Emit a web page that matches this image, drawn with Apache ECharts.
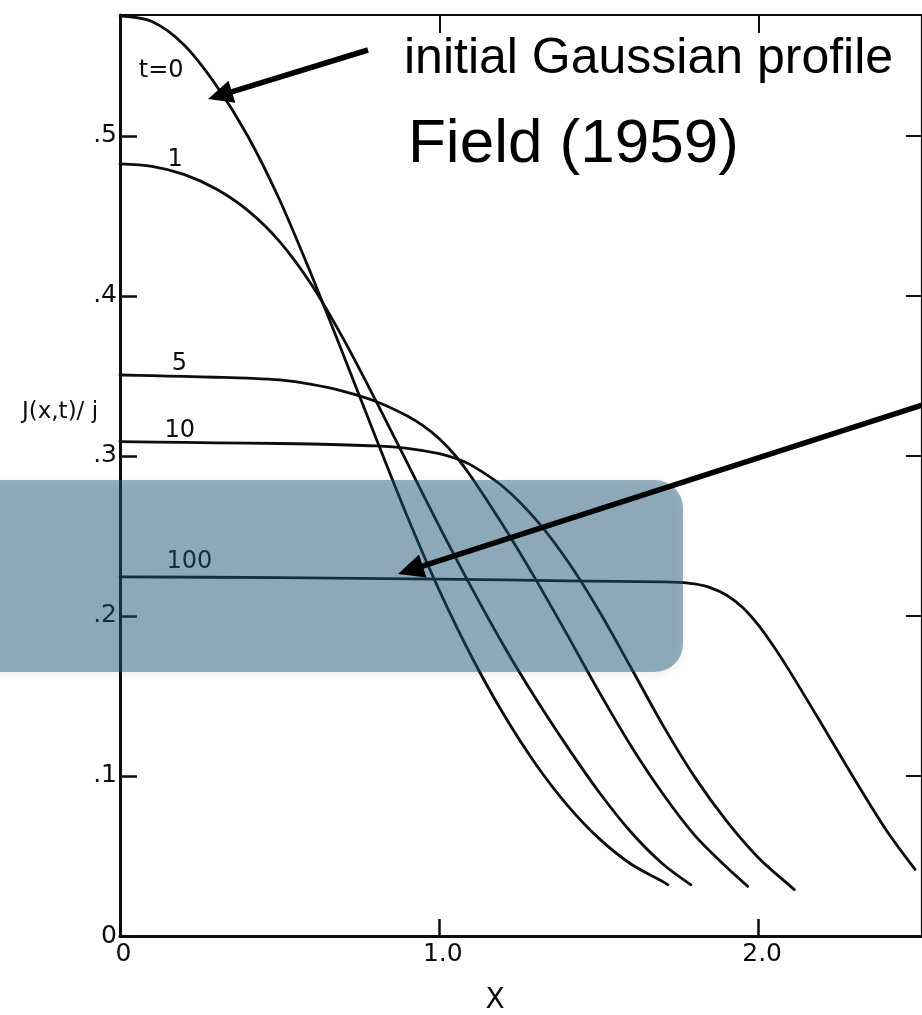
<!DOCTYPE html>
<html>
<head>
<meta charset="utf-8">
<script src="https://cdn.jsdelivr.net/npm/echarts@6/dist/echarts.min.js"></script>
<style>
  html, body { margin: 0; padding: 0; background: #ffffff; }
  #chart { width: 922px; height: 1015px; }
</style>
</head>
<body>
<div id="chart"></div>
<script>
// Normalised current density J(x,t)/j against distance x, one curve per time t.
const curveNames = ['t=0', '1', '5', '10', '100'];

const curveT0 = [
  [0, 0.575], [0.1, 0.5715], [0.2, 0.557], [0.3, 0.532], [0.4, 0.500],
  [0.5, 0.460], [0.6, 0.413], [0.7, 0.363], [0.8, 0.312], [0.9, 0.262], [1.0, 0.216],
  [1.1, 0.175], [1.2, 0.139], [1.3, 0.108], [1.4, 0.082], [1.5, 0.061], [1.6, 0.045],
  [1.7, 0.034], [1.716, 0.032]
];

const curveT1 = [
  [0, 0.4825], [0.1, 0.481], [0.2, 0.476], [0.3, 0.467], [0.4, 0.4535], [0.5, 0.434],
  [0.6, 0.407], [0.7, 0.373], [0.8, 0.335], [0.9, 0.2955], [1.0, 0.256], [1.1, 0.218],
  [1.2, 0.182], [1.3, 0.149], [1.4, 0.1185], [1.5, 0.090], [1.6, 0.065], [1.7, 0.045],
  [1.788, 0.032]
];

const curveT5 = [
  [0, 0.3506], [0.1, 0.3502], [0.2, 0.3497], [0.3, 0.3492], [0.4, 0.3486], [0.5, 0.3475],
  [0.6, 0.3447], [0.7, 0.3404], [0.8, 0.3342], [0.9, 0.3250], [0.95, 0.3188], [1.0, 0.3108],
  [1.05, 0.3003], [1.1, 0.2870], [1.2, 0.2565], [1.3, 0.2235], [1.4, 0.1885], [1.5, 0.1527],
  [1.6, 0.1189], [1.7, 0.0889], [1.8, 0.0629], [1.9, 0.0429], [1.966, 0.031]
];

const curveT10 = [
  [0, 0.309], [0.2, 0.3085], [0.4, 0.308], [0.6, 0.3075], [0.8, 0.3063], [0.9, 0.3048],
  [1.0, 0.3015], [1.05, 0.2986], [1.1, 0.2943], [1.2, 0.2808], [1.3, 0.2608], [1.4, 0.2348],
  [1.5, 0.2033], [1.6, 0.1678], [1.7, 0.1318], [1.8, 0.0993], [1.9, 0.0718], [2.0, 0.0488],
  [2.1, 0.031], [2.112, 0.029]
];

const curveT100 = [
  [0, 0.2244], [0.5, 0.2240], [1.0, 0.2230], [1.4, 0.2220], [1.7, 0.2213], [1.75, 0.2210],
  [1.8, 0.2200], [1.85, 0.2176], [1.9, 0.2130], [1.95, 0.2053], [2.0, 0.1941], [2.05, 0.1801],
  [2.1, 0.1646], [2.2, 0.1316], [2.3, 0.0981], [2.4, 0.0661], [2.49, 0.0416]
];

const curves = [curveT0, curveT1, curveT5, curveT10, curveT100];

const xTickLabels = ['0', '1.0', '2.0'];
const yTickLabels = ['0', '.1', '.2', '.3', '.4', '.5'];

// where each time label sits, in data units
const labelAnchors = [
  [0.129, 0.5406], [0.173, 0.4850], [0.186, 0.3575], [0.187, 0.3156], [0.217, 0.2340]
];

const X_MAX = 2.5117;
const Y_MAX = 0.5756;
const INK = '#0d0d0d';
const LETTER_FONT = '"DejaVu Sans", "Noto Sans", sans-serif';

function xLabel(v) {
  const i = Math.round(v);
  return Math.abs(v - i) < 1e-6 && i < xTickLabels.length ? xTickLabels[i] : '';
}
function yLabel(v) {
  const i = Math.round(v * 10);
  return Math.abs(v * 10 - i) < 1e-6 && i < yTickLabels.length ? yTickLabels[i] : '';
}

// filled arrow: straight shaft with a triangular head ending at the tip
function arrow(tail, tip, width, headLen, headW) {
  const dx = tip[0] - tail[0], dy = tip[1] - tail[1];
  const len = Math.hypot(dx, dy);
  const ux = dx / len, uy = dy / len;
  const bx = tip[0] - ux * headLen, by = tip[1] - uy * headLen;
  const px = -uy * headW / 2, py = ux * headW / 2;
  return [
    {
      type: 'line', z: 30,
      shape: { x1: tail[0], y1: tail[1], x2: bx + ux * 2, y2: by + uy * 2 },
      style: { stroke: '#000', lineWidth: width, lineCap: 'butt' }
    },
    {
      type: 'polygon', z: 30,
      shape: { points: [tip, [bx + px, by + py], [bx - px, by - py]] },
      style: { fill: '#000' }
    }
  ];
}

const chart = echarts.init(document.getElementById('chart'), null, { renderer: 'canvas' });

const series = curves.map((data, k) => ({
  type: 'line',
  name: curveNames[k],
  data: data,
  smooth: 0.3,
  showSymbol: false,
  symbol: 'none',
  animation: false,
  lineStyle: { color: INK, width: 2.8, cap: 'round', join: 'round' },
  z: 3,
  markPoint: {
    symbol: 'circle',
    symbolSize: 1,
    itemStyle: { color: 'rgba(0,0,0,0)' },
    label: {
      show: true, position: 'inside', formatter: curveNames[k],
      color: INK, fontSize: 24, fontFamily: LETTER_FONT
    },
    data: [{ coord: labelAnchors[k] }]
  }
}));

const option = {
  backgroundColor: '#ffffff',
  animation: false,
  grid: { left: 120, top: 15, width: 805, height: 921, containLabel: false },
  xAxis: [
    {
      type: 'value', min: 0, max: X_MAX, interval: 1, position: 'bottom',
      axisLine: { show: true, onZero: false, lineStyle: { color: INK, width: 3 } },
      axisTick: { show: true, inside: true, length: 17, lineStyle: { color: INK, width: 2.5 } },
      axisLabel: {
        show: true, formatter: xLabel, margin: 6, padding: [0, 0, 0, 7],
        color: INK, fontSize: 25, fontFamily: LETTER_FONT,
        showMaxLabel: false
      },
      splitLine: { show: false }
    },
    {
      type: 'value', min: 0, max: X_MAX, interval: 1, position: 'top',
      axisLine: { show: true, onZero: false, lineStyle: { color: INK, width: 2.2 } },
      axisTick: { show: true, inside: true, length: 18, lineStyle: { color: INK, width: 2 } },
      axisLabel: { show: false },
      splitLine: { show: false }
    }
  ],
  yAxis: [
    {
      type: 'value', min: 0, max: Y_MAX, interval: 0.1, position: 'left',
      axisLine: { show: true, onZero: false, lineStyle: { color: INK, width: 3 } },
      axisTick: { show: true, inside: true, length: 17, lineStyle: { color: INK, width: 2.5 } },
      axisLabel: {
        show: true, formatter: yLabel, margin: 3,
        color: INK, fontSize: 25, fontFamily: LETTER_FONT,
        showMaxLabel: false
      },
      splitLine: { show: false }
    },
    {
      type: 'value', min: 0, max: Y_MAX, interval: 0.1, position: 'right',
      axisLine: { show: true, onZero: false, lineStyle: { color: INK, width: 2.2 } },
      axisTick: { show: true, inside: true, length: 16, lineStyle: { color: INK, width: 2 } },
      axisLabel: { show: false },
      splitLine: { show: false }
    }
  ],
  series: series,
  graphic: [
    // translucent highlight band over the late-time plateau
    {
      type: 'rect', z: 20,
      shape: { x: -40, y: 480, width: 723, height: 192, r: 28 },
      style: {
        fill: 'rgba(28, 90, 124, 0.46)',
        shadowBlur: 8, shadowColor: 'rgba(0, 0, 0, 0.16)', shadowOffsetY: 3
      }
    },
    ...arrow([368, 50], [208, 99], 5.5, 25, 23),
    ...arrow([935, 401], [398, 574], 5.5, 26, 24),
    {
      type: 'text', z: 30,
      style: {
        text: 'initial Gaussian profile', x: 404, y: 59.5,
        font: '50px "Liberation Sans", Arial, sans-serif', fill: '#000',
        align: 'left', verticalAlign: 'middle',
        textAlign: 'left', textVerticalAlign: 'middle'
      }
    },
    {
      type: 'text', z: 30,
      style: {
        text: 'Field (1959)', x: 408, y: 145,
        font: '62px "Liberation Sans", Arial, sans-serif', fill: '#000',
        align: 'left', verticalAlign: 'middle',
        textAlign: 'left', textVerticalAlign: 'middle'
      }
    },
    {
      type: 'text', z: 5,
      style: {
        text: 'J(x,t)/ j', x: 60, y: 412,
        font: '23px ' + LETTER_FONT, fill: INK,
        align: 'center', verticalAlign: 'middle',
        textAlign: 'center', textVerticalAlign: 'middle'
      }
    },
    {
      type: 'text', z: 5,
      style: {
        text: 'X', x: 495, y: 1001,
        font: '28px ' + LETTER_FONT, fill: INK,
        align: 'center', verticalAlign: 'middle',
        textAlign: 'center', textVerticalAlign: 'middle'
      }
    }
  ]
};

chart.setOption(option);
</script>
</body>
</html>
